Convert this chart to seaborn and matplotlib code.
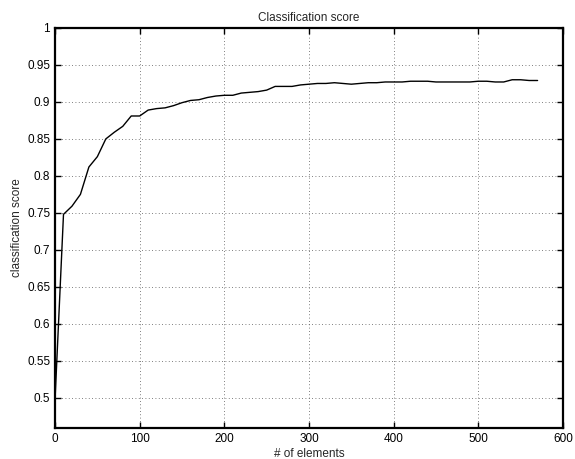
import numpy as np
import pandas as pd
import seaborn as sns
import matplotlib
matplotlib.use("Agg")
import matplotlib.pyplot as plt
from matplotlib.ticker import FormatStrFormatter

# number of elements (step 10) and the score
n_elements = list(range(0, 580, 10))
scores = [0.497, 0.748, 0.759, 0.775, 0.812, 0.826, 0.850, 0.859, 0.867, 0.881,
          0.881, 0.889, 0.891, 0.892, 0.895, 0.899, 0.902, 0.903, 0.906, 0.908,
          0.909, 0.909, 0.912, 0.913, 0.914, 0.916, 0.921, 0.921, 0.921, 0.923,
          0.924, 0.925, 0.925, 0.926, 0.925, 0.924, 0.925, 0.926, 0.926, 0.927,
          0.927, 0.927, 0.928, 0.928, 0.928, 0.927, 0.927, 0.927, 0.927, 0.927,
          0.928, 0.928, 0.927, 0.927, 0.930, 0.930, 0.929, 0.929]
x_ticks = [0, 100, 200, 300, 400, 500, 600]
y_ticks = [0.5, 0.55, 0.6, 0.65, 0.7, 0.75, 0.8, 0.85, 0.9, 0.95, 1.0]

df = pd.DataFrame({"n": n_elements, "score": scores})

sns.set_style("white")
plt.rcParams['font.family'] = ['Liberation Sans', 'DejaVu Sans']

fig = plt.figure(figsize=(5.75, 4.59), dpi=100)
ax = fig.add_axes([0.0957, 0.0675, 0.8834, 0.8715])

sns.lineplot(data=df, x="n", y="score", color="black", linewidth=1.0, ax=ax)

ax.set_xlim(0, 600)
ax.set_ylim(0.459, 1.0)
ax.set_xticks(x_ticks)
ax.set_yticks(y_ticks)
ax.yaxis.set_major_formatter(FormatStrFormatter('%g'))
ax.grid(True, linestyle=(0, (1, 3)), color="#555555", linewidth=0.6)
ax.tick_params(direction="in", length=4, width=1, labelsize=8.5, colors="black",
               top=True, right=True, bottom=True, left=True)
for s in ax.spines.values():
    s.set_linewidth(1.6)
    s.set_color("black")

ax.set_title("Classification score", fontsize=8.5, pad=5)
ax.set_xlabel("# of elements", fontsize=8.5, labelpad=2)
ax.set_ylabel("classification score", fontsize=8.5, labelpad=3)

fig.savefig("out.png", dpi=100)
